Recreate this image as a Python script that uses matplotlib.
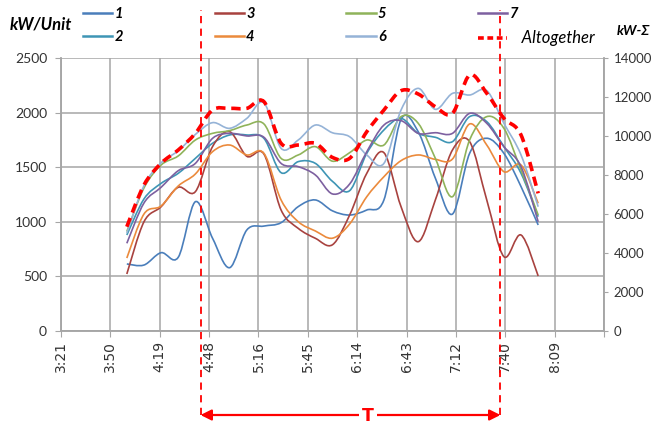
import matplotlib
matplotlib.use('Agg')
import matplotlib.pyplot as plt
from matplotlib.path import Path
from matplotlib.patches import PathPatch
from matplotlib.lines import Line2D

# readings every 10 minutes, 4:00 .. 8:00
times = ['4:00', '4:10', '4:20', '4:30', '4:40', '4:50', '5:00', '5:10', '5:20',
         '5:30', '5:40', '5:50', '6:00', '6:10', '6:20', '6:30', '6:40', '6:50',
         '7:00', '7:10', '7:20', '7:30', '7:40', '7:50', '8:00']
unit1 = [614, 604, 717, 675, 1184, 850, 580, 925, 961, 992, 1139, 1200, 1100,
         1062, 1108, 1200, 1938, 1825, 1400, 1071, 1627, 1765, 1627, 1322, 971]
unit2 = [879, 1209, 1352, 1444, 1581, 1719, 1795, 1795, 1764, 1450, 1551, 1535, 1370,
         1285, 1627, 1841, 1947, 1810, 1774, 1734, 1963, 1917, 1688, 1444, 1047]
unit3 = [522, 1000, 1138, 1316, 1276, 1688, 1825, 1600, 1620, 1108, 940, 849, 790,
         1062, 1444, 1633, 1138, 818, 1200, 1658, 1734, 1200, 681, 879, 504]
unit4 = [668, 1071, 1145, 1328, 1438, 1642, 1703, 1612, 1627, 1200, 1001, 916, 850,
         980, 1230, 1413, 1560, 1612, 1572, 1575, 1896, 1703, 1459, 1520, 1169]
unit5 = [911, 1310, 1520, 1603, 1749, 1810, 1835, 1886, 1896, 1581, 1612, 1688, 1555,
         1633, 1749, 1703, 1963, 1902, 1581, 1230, 1749, 1963, 1856, 1474, 1062]
unit6 = [897, 1330, 1540, 1650, 1800, 1908, 1856, 1947, 2090, 1673, 1749, 1886, 1815,
         1779, 1612, 1535, 2024, 2222, 2030, 2176, 2161, 2201, 1902, 1612, 1138]
unit7 = [803, 1172, 1316, 1468, 1535, 1764, 1810, 1786, 1774, 1535, 1505, 1429, 1255,
         1346, 1642, 1886, 1926, 1810, 1816, 1810, 1993, 1902, 1688, 1505, 1000]
total = [5349, 7487, 8600, 9282, 10138, 11333, 11418, 11418, 11760, 9624, 9538, 9624, 8900,
         8856, 10220, 11333, 12323, 12153, 11502, 11163, 13128, 12189, 10907, 10051, 7061]

x_labels = ['3:21', '3:50', '4:19', '4:48', '5:16', '5:45', '6:14', '6:43', '7:12', '7:40', '8:09', '']
x_ticks = [0.14, 0.16, 0.18, 0.20, 0.22, 0.24, 0.26, 0.28, 0.30, 0.32, 0.34, 0.36]
t_from = '4:43'
t_to = '7:38'

unit_names = ['1', '2', '3', '4', '5', '6', '7']
colors = ['#4A7EBB', '#3E95B5', '#A8423F', '#EB8A3C', '#8FB35A', '#95B3D7', '#7D60A0']


def to_day(s):
    h, m = s.split(':')
    return (int(h) * 60 + int(m)) / 1440.0


def smooth_path(xs, ys):
    # excel style smoothed line (catmull-rom as bezier)
    n = len(xs)
    verts = [(xs[0], ys[0])]
    codes = [Path.MOVETO]
    for i in range(n - 1):
        a = i - 1 if i > 0 else i
        d = i + 2 if i + 2 < n else i + 1
        c1 = (xs[i] + (xs[i + 1] - xs[a]) / 6.0, ys[i] + (ys[i + 1] - ys[a]) / 6.0)
        c2 = (xs[i + 1] - (xs[d] - xs[i]) / 6.0, ys[i + 1] - (ys[d] - ys[i]) / 6.0)
        verts += [c1, c2, (xs[i + 1], ys[i + 1])]
        codes += [Path.CURVE4] * 3
    return Path(verts, codes)


days = [to_day(t) for t in times]
grid_c = '#A6A6A6'

fig = plt.figure(figsize=(6.53, 4.25), dpi=100)
ax = fig.add_axes([61 / 653, 1 - 331 / 425, 543 / 653, 273 / 425])
ax2 = ax.twinx()

handles = []
for vals, name, c in zip([unit1, unit2, unit3, unit4, unit5, unit6, unit7], unit_names, colors):
    ax.add_patch(PathPatch(smooth_path(days, vals), fill=False, edgecolor=c, lw=1.2, zorder=3))
    handles.append(Line2D([], [], color=c, lw=1.8))

ax2.add_patch(PathPatch(smooth_path(days, total), fill=False, edgecolor='#FF0000', lw=2.6,
                        linestyle=(0, (2.6, 1.6)), capstyle='butt', zorder=4))
handles.append(Line2D([], [], color='#FF0000', lw=2.6, linestyle=(0, (1.6, 1.0))))

ax.set_xlim(0.14, 0.36)
ax.set_ylim(0, 2500)
ax2.set_ylim(0, 14000)
ax.set_xticks(x_ticks)
ax.set_xticklabels(x_labels, rotation=90, fontsize=10, color='#333333', family='DejaVu Sans')
ax.set_yticks([0, 500, 1000, 1500, 2000, 2500])
ax2.set_yticks(range(0, 14001, 2000))
for lab in ax.get_yticklabels():
    lab.set_fontsize(10)
    lab.set_family('Lato')
for lab in ax2.get_yticklabels():
    lab.set_fontsize(9.5)
    lab.set_family('Lato')

ax.grid(True, color=grid_c, lw=1.1)
ax.set_axisbelow(True)
ax.spines['top'].set_visible(False)
ax2.spines['top'].set_visible(False)
for a in [ax, ax2]:
    for sp in ['left', 'bottom', 'right']:
        a.spines[sp].set_color(grid_c)
        a.spines[sp].set_linewidth(1.1)
ax.tick_params(axis='x', length=4, color=grid_c, pad=3)
ax.tick_params(axis='y', length=4, color=grid_c, pad=6, labelcolor='#333333')
ax2.tick_params(axis='y', length=3, color=grid_c, pad=4, labelcolor='#333333')

# time window markers
arrow_y = (331 - 415) / 273
for t in [t_from, t_to]:
    ax.axvline(to_day(t), ymin=arrow_y, ymax=(331 - 10) / 273, clip_on=False, color='#FF0000',
               lw=1.3, linestyle=(0, (4, 3)), zorder=5)
ax.annotate('', xy=(to_day(t_from), arrow_y), xytext=(to_day(t_to), arrow_y),
            xycoords=('data', 'axes fraction'), textcoords=('data', 'axes fraction'),
            arrowprops=dict(arrowstyle='<|-|>', color='#FF0000', lw=1.6,
                            mutation_scale=16, shrinkA=0, shrinkB=0), annotation_clip=False)
fig.text(368 / 653, 1 - 416 / 425, 'T', ha='center', va='center', fontsize=12.5,
         fontweight='bold', color='#FF0000',
         bbox=dict(facecolor='white', edgecolor='none', pad=2.5))

fig.text(10 / 653, 1 - 25 / 425, 'kW/Unit', fontsize=12, fontweight='bold', fontstyle='italic',
         family='Lato', va='center', ha='left')
fig.text(617 / 653, 1 - 31 / 425, 'kW-Σ', fontsize=10, fontweight='bold', fontstyle='italic',
         family='Lato', va='center', ha='left')

leg = fig.legend(handles, unit_names + ['   Altogether'], ncol=4, loc='upper left',
                 bbox_to_anchor=(83 / 653, 1 - 7 / 425), frameon=False, borderpad=0,
                 borderaxespad=0, handlelength=2.0, handletextpad=0.15, columnspacing=6.3,
                 labelspacing=0.62, prop={'family': 'Lato', 'size': 10.5})
for txt in leg.get_texts()[:7]:
    txt.set_fontweight('bold')
    txt.set_fontstyle('italic')
leg.get_texts()[7].set_fontstyle('italic')
leg.get_texts()[7].set_fontsize(12)

fig.savefig('out.png', dpi=100)
